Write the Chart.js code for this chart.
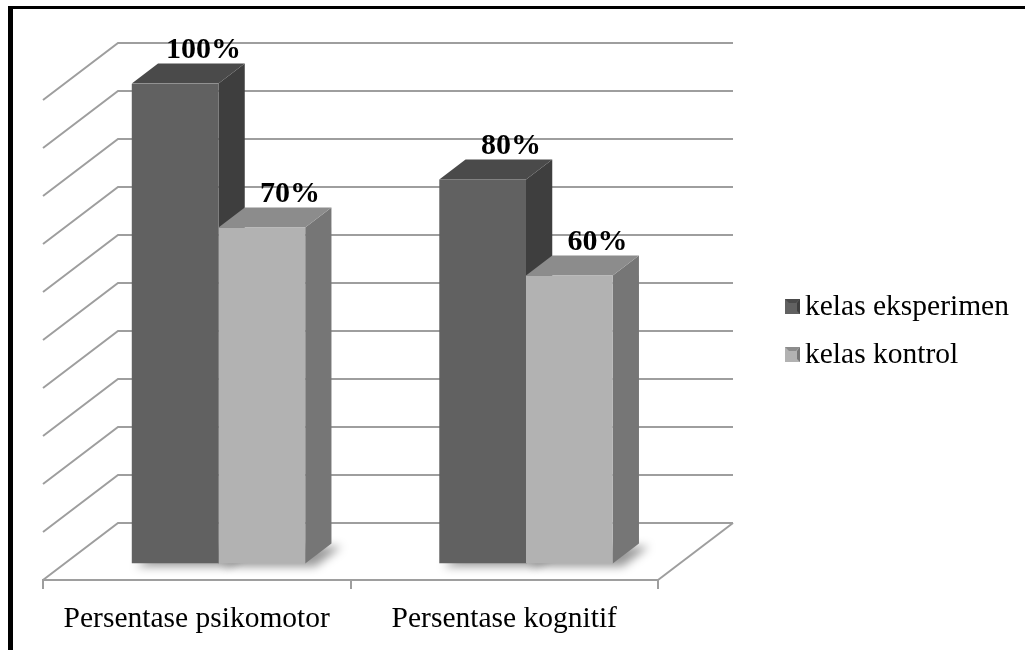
<!DOCTYPE html>
<html>
<head>
<meta charset="utf-8">
<script src="https://cdn.jsdelivr.net/npm/chart.js@4"></script>
<style>
    html, body { margin: 0; padding: 0; background: #fff; overflow: hidden; }
    #wrap { position: relative; width: 1025px; height: 650px; }
    #frame {
        position: absolute; left: 8px; top: 6px; width: 1030px; height: 660px;
        border-top: 3px solid #000; border-left: 5px solid #000; pointer-events: none;
    }
</style>
</head>
<body>
<div id="wrap">
    <canvas id="chart"></canvas>
    <div id="frame"></div>
</div>
<script>
// Data
const categories = ['Persentase psikomotor', 'Persentase kognitif'];
const seriesNames = ['kelas eksperimen', 'kelas kontrol'];
const eksperimenValues = [100, 80];
const kontrolValues = [70, 60];
const gridValues = [0, 10, 20, 30, 40, 50, 60, 70, 80, 90, 100];

// Bar face colours: front, top, side
const faceColors = [
    { front: '#616161', top: '#4a4a4a', side: '#3e3e3e' },
    { front: '#b2b2b2', top: '#8c8c8c', side: '#767676' }
];

const FONT = "'Liberation Serif', 'Times New Roman', serif";
const GRID = '#9e9e9e';

// Depth of the 3D box (floor front -> back wall)
const depthX = 75, depthY = -57;
// Bars sit between these fractions of the depth
const barFront = 0.29, barBack = 0.64;

// 3D walls, side/top faces, labels and legend
const bar3d = {
    id: 'bar3d',
    beforeDatasetsDraw(chart) {
        const { ctx, chartArea: a, scales: { y } } = chart;

        // Wall gridlines
        ctx.save();
        ctx.strokeStyle = GRID;
        ctx.lineWidth = 2;
        gridValues.forEach(v => {
            const py = y.getPixelForValue(v);
            ctx.beginPath();
            ctx.moveTo(a.left, py);
            ctx.lineTo(a.left + depthX, py + depthY);
            ctx.lineTo(a.right + depthX, py + depthY);
            ctx.stroke();
        });
        // Floor right edge
        ctx.beginPath();
        ctx.moveTo(a.right, a.bottom);
        ctx.lineTo(a.right + depthX, a.bottom + depthY);
        ctx.stroke();
        ctx.restore();

        const fx = depthX * barFront, fy = depthY * barFront;
        const dx = depthX * (barBack - barFront), dy = depthY * (barBack - barFront);

        // Soft shadows on the floor
        ctx.save();
        ctx.translate(fx, fy);
        ctx.filter = 'blur(5px)';
        ctx.fillStyle = 'rgba(0,0,0,0.4)';
        chart.data.datasets.forEach((ds, i) => {
            chart.getDatasetMeta(i).data.forEach(el => {
                const l = el.x - el.width / 2 + 4, r = el.x + el.width / 2 + 10, b = el.base + 3;
                ctx.beginPath();
                ctx.moveTo(l, b);
                ctx.lineTo(r, b);
                ctx.lineTo(r + dx, b + dy);
                ctx.lineTo(l + dx, b + dy);
                ctx.closePath();
                ctx.fill();
            });
        });
        ctx.restore();

        // Side and top faces, then leave ctx shifted so the library draws the front faces
        ctx.save();
        ctx.translate(fx, fy);
        chart.data.datasets.forEach((ds, i) => {
            const c = faceColors[i];
            chart.getDatasetMeta(i).data.forEach(el => {
                const l = el.x - el.width / 2, r = el.x + el.width / 2;
                ctx.fillStyle = c.side;
                ctx.beginPath();
                ctx.moveTo(r, el.y);
                ctx.lineTo(r + dx, el.y + dy);
                ctx.lineTo(r + dx, el.base + dy);
                ctx.lineTo(r, el.base);
                ctx.closePath();
                ctx.fill();

                ctx.fillStyle = c.top;
                ctx.beginPath();
                ctx.moveTo(l, el.y);
                ctx.lineTo(l + dx, el.y + dy);
                ctx.lineTo(r + dx, el.y + dy);
                ctx.lineTo(r, el.y);
                ctx.closePath();
                ctx.fill();
            });
        });
    },
    afterDatasetsDraw(chart) {
        const { ctx } = chart;
        ctx.restore();

        const fx = depthX * barFront, fy = depthY * barFront;
        const dx = depthX * (barBack - barFront), dy = depthY * (barBack - barFront);

        // Value labels
        ctx.save();
        ctx.fillStyle = '#000';
        ctx.font = 'bold 30px ' + FONT;
        ctx.textAlign = 'center';
        ctx.textBaseline = 'alphabetic';
        chart.data.datasets.forEach((ds, i) => {
            chart.getDatasetMeta(i).data.forEach((el, j) => {
                ctx.fillText(ds.data[j] + '%', el.x + fx + dx + 2, el.y + fy + dy - 6);
            });
        });

        // Legend
        ctx.font = '29.5px ' + FONT;
        ctx.textAlign = 'left';
        chart.data.datasets.forEach((ds, i) => {
            const bx = 785, by = 299 + i * 48, s = 15;
            const c = faceColors[i];
            ctx.fillStyle = c.front;
            ctx.fillRect(bx, by, s, s);
            ctx.fillStyle = c.top;
            ctx.beginPath();
            ctx.moveTo(bx, by);
            ctx.lineTo(bx + s, by);
            ctx.lineTo(bx + s - 4, by + 4);
            ctx.lineTo(bx + 4, by + 4);
            ctx.closePath();
            ctx.fill();
            ctx.fillStyle = c.side;
            ctx.beginPath();
            ctx.moveTo(bx + s, by);
            ctx.lineTo(bx + s, by + s);
            ctx.lineTo(bx + s - 3, by + s - 3);
            ctx.lineTo(bx + s - 3, by + 4);
            ctx.closePath();
            ctx.fill();
            ctx.fillStyle = '#000';
            ctx.fillText(ds.label, 805, by + 16);
        });
        ctx.restore();
    }
};

new Chart(document.getElementById('chart'), {
    type: 'bar',
    data: {
        labels: categories,
        datasets: [{
            label: seriesNames[0],
            data: eksperimenValues,
            backgroundColor: faceColors[0].front
        }, {
            label: seriesNames[1],
            data: kontrolValues,
            backgroundColor: faceColors[1].front
        }]
    },
    options: {
        responsive: true,
        maintainAspectRatio: false,
        animation: false,
        categoryPercentage: 0.564,
        barPercentage: 1,
        layout: {
            padding: { left: 43, right: 367, top: 100, bottom: 0 }
        },
        plugins: {
            legend: { display: false },
            tooltip: { enabled: false }
        },
        scales: {
            x: {
                grid: {
                    offset: true,
                    drawOnChartArea: false,
                    drawTicks: true,
                    tickLength: 9,
                    color: GRID,
                    lineWidth: 2
                },
                border: { display: true, color: GRID, width: 2 },
                ticks: {
                    color: '#000',
                    padding: 13,
                    font: { family: FONT, size: 29.5 }
                },
                afterFit: scale => { scale.height = 70; }
            },
            y: {
                display: false,
                min: 0,
                max: 100,
                ticks: { stepSize: 10 }
            }
        }
    },
    plugins: [bar3d]
});
</script>
</body>
</html>
